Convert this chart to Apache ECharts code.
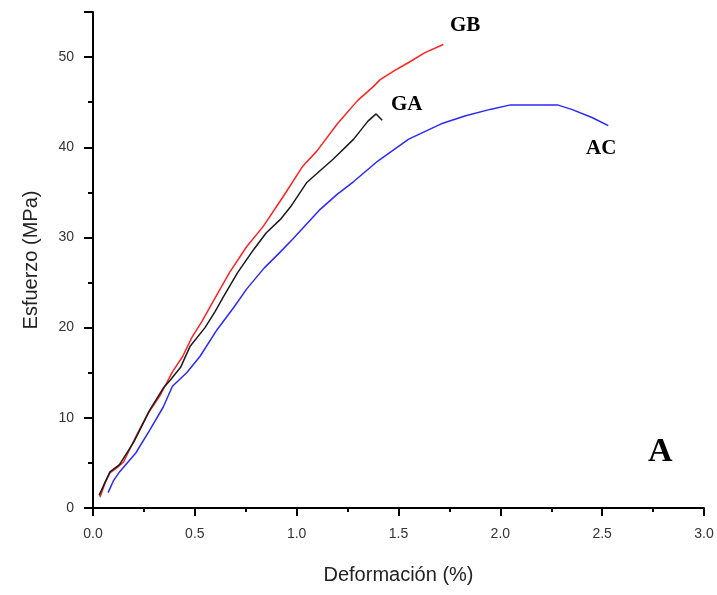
<!DOCTYPE html>
<html>
<head>
<meta charset="utf-8">
<script src="https://cdn.jsdelivr.net/npm/echarts@6/dist/echarts.min.js"></script>
<style>
html,body{margin:0;padding:0;background:#fff;}
#chart{width:717px;height:595px;}
</style>
</head>
<body>
<div id="chart"></div>
<script>
// Curve GB (red)
const gbX = [0.034,0.06,0.083,0.12,0.15,0.21,0.27,0.33,0.39,0.44,0.485,0.535,0.59,0.67,0.755,0.835,0.93,1.03,1.1,1.2,1.3,1.375,1.41,1.48,1.55,1.63,1.72];
const gbY = [1.2,2.8,3.9,4.5,5.1,7.9,10.5,12.5,15.1,16.8,18.9,20.7,22.9,26.1,29.0,31.2,34.4,37.9,39.6,42.6,45.2,46.7,47.5,48.5,49.4,50.5,51.4];
// Curve GA (black)
const gaX = [0.03,0.06,0.083,0.13,0.2,0.28,0.345,0.38,0.43,0.476,0.55,0.60,0.64,0.71,0.79,0.85,0.92,0.97,1.05,1.08,1.18,1.28,1.35,1.39,1.42];
const gaY = [1.4,2.9,4.0,4.8,7.3,10.9,13.3,14.2,15.6,17.9,20.0,21.8,23.4,26.1,28.7,30.5,32.0,33.4,36.1,36.7,38.7,40.9,42.9,43.7,43.0];
// Curve AC (blue)
const acX = [0.074,0.1,0.13,0.21,0.28,0.345,0.39,0.46,0.525,0.61,0.69,0.755,0.84,0.92,0.98,1.11,1.20,1.28,1.40,1.55,1.71,1.83,1.95,2.05,2.15,2.28,2.35,2.45,2.53];
const acY = [1.7,3.0,4.0,6.1,8.7,11.2,13.5,15.0,16.8,19.8,22.2,24.3,26.6,28.4,29.8,33.0,34.8,36.2,38.5,40.9,42.6,43.5,44.2,44.7,44.7,44.7,44.2,43.3,42.4];

const zip = (xs, ys) => xs.map((x, i) => [x, ys[i]]);

const chart = echarts.init(document.getElementById('chart'), null, {renderer: 'canvas'});
const labelFont = {fontFamily: 'Liberation Sans, Arial, sans-serif', fontSize: 14, color: '#333'};
const annFont = 'bold 21px "Liberation Serif", "Times New Roman", serif';

chart.setOption({
  animation: false,
  backgroundColor: '#fff',
  grid: {left: 93, right: 13, top: 12, bottom: 87},
  xAxis: {
    type: 'value', min: 0, max: 3, interval: 0.5,
    name: 'Deformación (%)', nameLocation: 'middle', nameGap: 57,
    nameTextStyle: {fontFamily: 'Liberation Sans, Arial, sans-serif', fontSize: 20, color: '#222'},
    axisLine: {show: true, onZero: false, lineStyle: {color: '#000', width: 2}},
    axisTick: {show: true, inside: false, length: 8, lineStyle: {color: '#000', width: 2}},
    minorTick: {show: true, splitNumber: 2, length: 4, lineStyle: {color: '#000', width: 2}},
    splitLine: {show: false},
    axisLabel: Object.assign({margin: 19, formatter: v => v.toFixed(1)}, labelFont)
  },
  yAxis: {
    type: 'value', min: 0, max: 55, interval: 10,
    name: 'Esfuerzo (MPa)', nameLocation: 'middle', nameGap: 52,
    nameTextStyle: {fontFamily: 'Liberation Sans, Arial, sans-serif', fontSize: 20, color: '#222'},
    axisLine: {show: true, onZero: false, lineStyle: {color: '#000', width: 2}},
    axisTick: {show: true, inside: false, length: 9, lineStyle: {color: '#000', width: 2}},
    minorTick: {show: true, splitNumber: 2, length: 5, lineStyle: {color: '#000', width: 2}},
    splitLine: {show: false},
    axisLabel: Object.assign({margin: 19, showMaxLabel: false, formatter: v => (v > 50 ? '' : String(v))}, labelFont)
  },
  series: [
    {name: 'GB', type: 'line', data: zip(gbX, gbY), showSymbol: false, lineStyle: {color: '#ff2222', width: 1.5}, itemStyle: {color: '#ff2222'}},
    {name: 'GA', type: 'line', data: zip(gaX, gaY), showSymbol: false, lineStyle: {color: '#1a1a1a', width: 1.5}, itemStyle: {color: '#1a1a1a'}},
    {name: 'AC', type: 'line', data: zip(acX, acY), showSymbol: false, lineStyle: {color: '#2a2aff', width: 1.5}, itemStyle: {color: '#2a2aff'}}
  ],
  graphic: [
    {type: 'text', left: 450, top: 15, style: {text: 'GB', font: annFont, fill: '#000'}},
    {type: 'text', left: 391, top: 94, style: {text: 'GA', font: annFont, fill: '#000'}},
    {type: 'text', left: 586, top: 138, style: {text: 'AC', font: annFont, fill: '#000'}},
    {type: 'text', left: 648, top: 435, style: {text: 'A', font: 'bold 34px "Liberation Serif", "Times New Roman", serif', fill: '#000'}}
  ]
});
</script>
</body>
</html>
